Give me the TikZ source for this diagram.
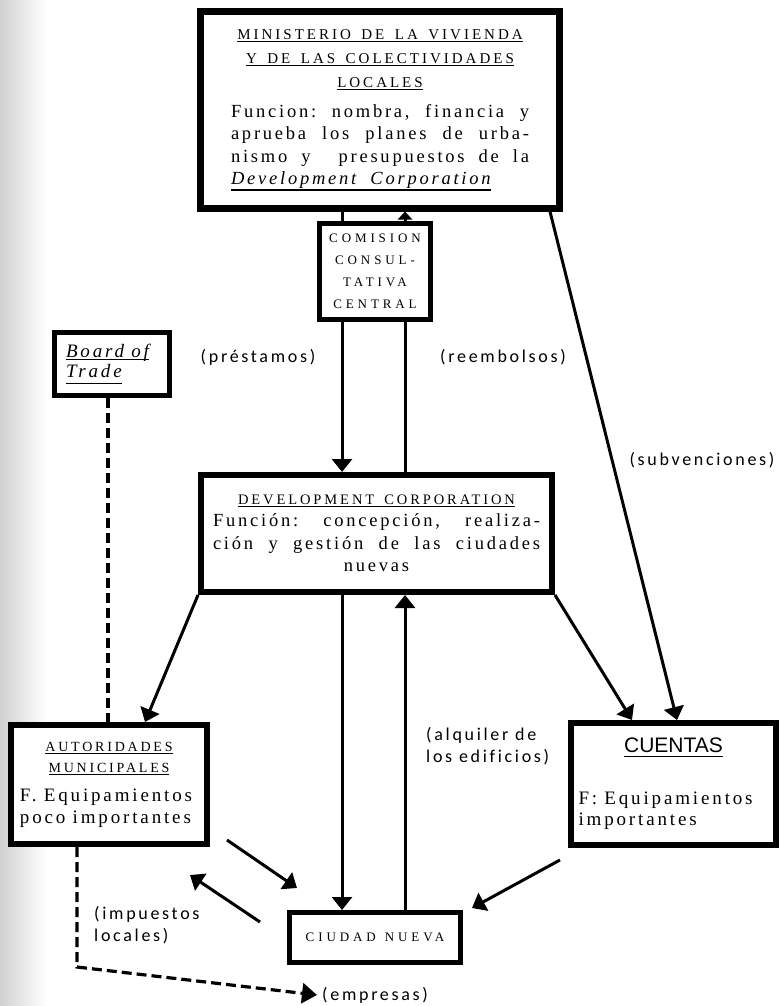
\documentclass[tikz,border=0pt]{standalone}
\usepackage{fontspec}
\setmainfont{Liberation Serif}[LetterSpace=15,Ligatures=CommonOff]
\newfontfamily\capsfont{Liberation Serif}[LetterSpace=20]
\newfontfamily\widecaps{Liberation Serif}[LetterSpace=30]
\newfontfamily\labelfont{Carlito}[LetterSpace=15,Ligatures=CommonOff]
\newfontfamily\headsans{Liberation Sans}
\usetikzlibrary{arrows.meta}

% underline with a heavier rule; optional argument = depth below baseline
\newsavebox\ulbox
\newcommand\ulin[2][3pt]{\sbox\ulbox{#2}\leavevmode\rlap{\rule[-#1]{\wd\ulbox}{1.3pt}}\usebox\ulbox}
% explicit word spaces for the letter-spaced serif (text and capitals)
\newcommand\ws{\hskip 0.38em plus 0.6em\relax}
\newcommand\cs{\hskip 0.7em\relax}

\begin{document}
\begin{tikzpicture}[x=1pt,y=-1pt,
  box/.style={draw, fill=white, inner sep=0pt, align=center},
  plain/.style={line width=3pt},
  flow/.style={line width=3pt, -{Triangle[width=20pt,length=13pt]}},
  smallflow/.style={line width=3pt, -{Triangle[width=14pt,length=8pt]}},
  dashline/.style={line width=3.2pt, dash pattern=on 10pt off 5pt},
  dashedflow/.style={line width=3.2pt, dash pattern=on 10pt off 5pt, -{Triangle[width=20pt,length=15pt]}},
  lbl/.style={font=\labelfont\fontsize{18}{22}\selectfont, inner sep=0pt}
]
\useasboundingbox (0,0) rectangle (779,1006);
% scanned page edge
\fill[left color=black!18, right color=white] (0,0) rectangle (46,1006);

% ---------- boxes ----------
\node[box, line width=7pt, minimum width=359pt, minimum height=196pt, text width=300pt] (min) at (380,110)
 {{\capsfont\fontsize{15}{24}\selectfont
   \ulin{MINISTERIO\cs DE\cs LA\cs VIVIENDA}\\
   \ulin{Y\cs DE\cs LAS\cs COLECTIVIDADES}\\
   \ulin{LOCALES}\\[7.5pt]}
  {\fontsize{18.5}{22.5}\selectfont
   \makebox[298pt][s]{Funcion:\ws nombra,\ws financia\ws y}\\
   \makebox[298pt][s]{aprueba\ws los\ws planes\ws de\ws urba-}\\
   \makebox[298pt][s]{nismo\ws y\ws\ws presupuestos\ws de\ws la}\\
   \makebox[298pt][l]{\ulin[6pt]{\itshape Development\ws\ws Corporation}}\par}};

\node[box, line width=5pt, minimum width=111pt, minimum height=96pt, text width=105pt,
      font=\widecaps\fontsize{13}{22}\selectfont] (com) at (375,271.5)
 {COMISION\\CONSUL-\\TATIVA\\CENTRAL};

\node[box, line width=5pt, minimum width=115pt, minimum height=63pt, text width=92pt, align=left,
      font=\itshape\fontsize{19}{20}\selectfont] (brd) at (112,364)
 {\ulin{Board\ws of}\\\ulin[7pt]{Trade}};

\node[box, line width=6pt, minimum width=351pt, minimum height=117pt, text width=330pt] (dev) at (376.5,533.5)
 {{\capsfont\fontsize{14.5}{20}\selectfont\ulin{DEVELOPMENT\cs CORPORATION}\\}
  {\fontsize{18.5}{22.5}\selectfont
   \makebox[327pt][s]{Función:\ws concepción,\ws realiza-}\\
   \makebox[327pt][s]{ción\ws y\ws gestión\ws de\ws las\ws ciudades}\\
   nuevas\par}};

\node[box, line width=6pt, minimum width=196pt, minimum height=119pt, text width=180pt] (aut) at (109,784.5)
 {{\capsfont\fontsize{14}{21}\selectfont\ulin{AUTORIDADES}\\\ulin{MUNICIPALES}\\[8pt]}
  {\fontsize{19}{21.5}\selectfont
   \makebox[178pt][l]{F.\ws Equipamientos}\\
   \makebox[178pt][l]{poco\ws importantes}\par}};

\node[box, line width=6pt, minimum width=205pt, minimum height=122pt, text width=192pt] (cue) at (673.5,784)
 {{\headsans\fontsize{21}{24}\selectfont\ulin[4pt]{CUENTAS}\\[30pt]}
  {\fontsize{19}{21.5}\selectfont
   \makebox[190pt][l]{F:\ws Equipamientos}\\
   \makebox[190pt][l]{importantes}\par}};

\node[box, line width=5pt, minimum width=171pt, minimum height=50pt,
      font=\widecaps\fontsize{13}{16}\selectfont] (ciu) at (375,937.5) {CIUDAD\cs NUEVA};

% ---------- labels ----------
\node[lbl] (lpre) at (258,357) {(préstamos)};
\node[lbl] (lree) at (503,357) {(reembolsos)};
\node[lbl] (lsub) at (702,460) {(subvenciones)};
\node[lbl, align=left, anchor=west] (lalq) at (426,746) {(alquiler de\\los edificios)};
\node[lbl, align=left, anchor=west] (limp) at (94,925) {(impuestos\\locales)};
\node[lbl, anchor=west] (lemp) at (322,995) {(empresas)};

% ---------- connector positions ----------
\coordinate (xL) at (342,0);
\coordinate (xR) at (405,0);
\coordinate (xA) at (145,0);
\coordinate (xC1) at (632,0);
\coordinate (xS) at (550,0);
\coordinate (xC2) at (677,0);
\coordinate (xB) at (108,0);
\coordinate (xD) at (77,0);
\coordinate (bend) at (77,967);
\coordinate (p1) at (227,840);
\coordinate (p2) at (297,888);
\coordinate (p3) at (260,922);
\coordinate (p4) at (190,875);
\coordinate (p5) at (560,860);
\coordinate (p6) at (472,908);

% ---------- connectors ----------
\draw[plain] (min.south -| xL) -- (com.north -| xL);
\draw[flow] (com.south -| xL) -- (dev.north -| xL);
\draw[plain] (dev.north -| xR) -- (com.south -| xR);
\draw[smallflow] (com.north -| xR) -- (min.south -| xR);
\draw[flow] (dev.south -| xL) -- (ciu.north -| xL);
\draw[flow] (ciu.north -| xR) -- (dev.south -| xR);
\draw[flow] (dev.south west) -- (aut.north -| xA);
\draw[flow] (dev.south east) -- (cue.north -| xC1);
\draw[flow] (min.south -| xS) -- (cue.north -| xC2);
\draw[dashline] (brd.south -| xB) -- (aut.north -| xB);
\draw[dashedflow] (aut.south -| xD) -- (bend) -- ([xshift=-5pt]lemp.west);
\draw[flow] (p1) -- (p2);
\draw[flow] (p3) -- (p4);
\draw[flow] (p5) -- (p6);
\end{tikzpicture}
\end{document}
